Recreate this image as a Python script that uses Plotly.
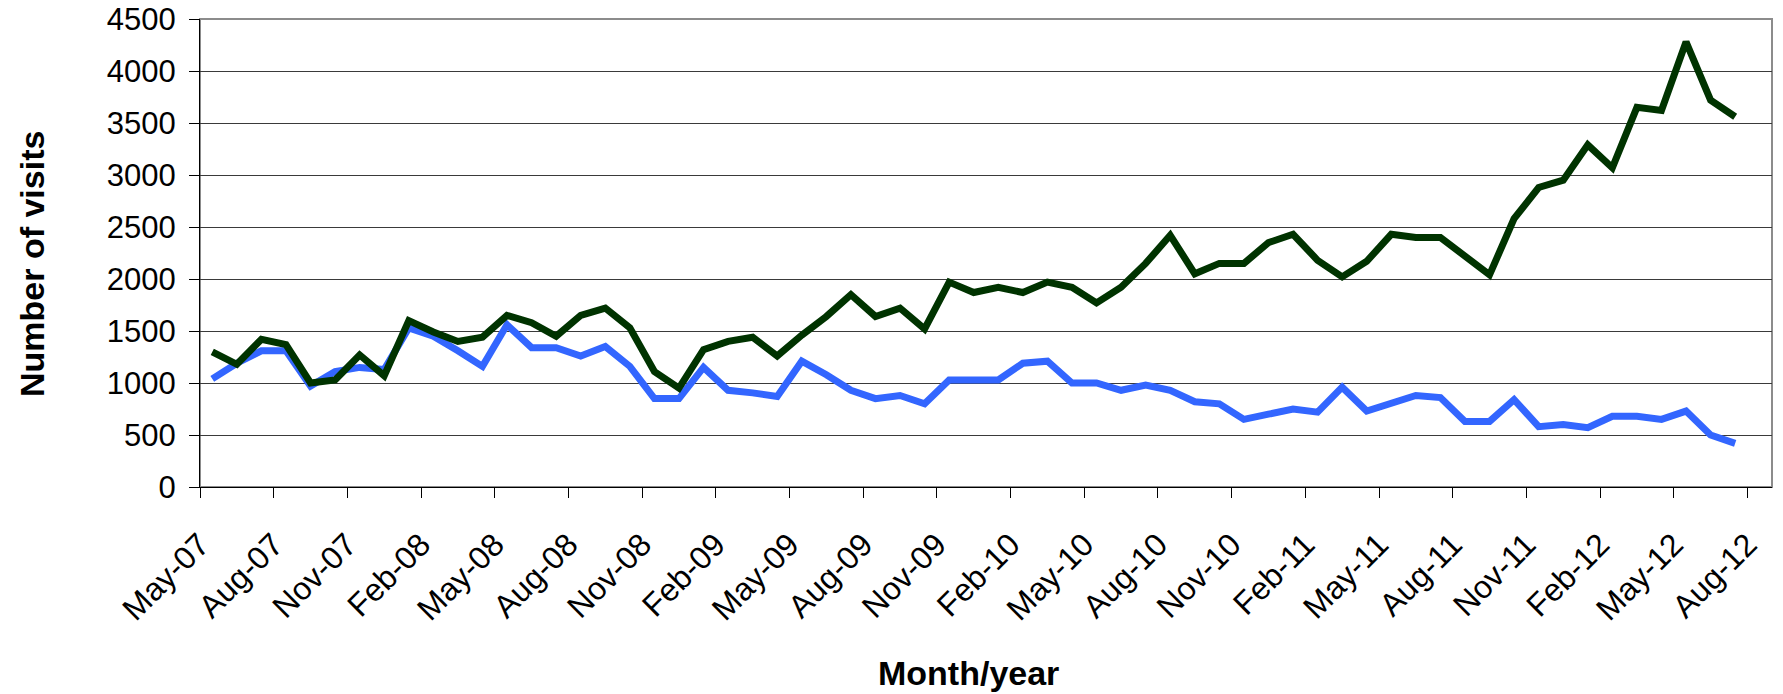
import plotly.graph_objects as go

# Monthly categories: May-07 .. Jul-12 (63 months with data); axis runs to Aug-12
month_labels = [
    "May-07", "Jun-07", "Jul-07", "Aug-07", "Sep-07", "Oct-07", "Nov-07", "Dec-07",
    "Jan-08", "Feb-08", "Mar-08", "Apr-08", "May-08", "Jun-08", "Jul-08", "Aug-08",
    "Sep-08", "Oct-08", "Nov-08", "Dec-08", "Jan-09", "Feb-09", "Mar-09", "Apr-09",
    "May-09", "Jun-09", "Jul-09", "Aug-09", "Sep-09", "Oct-09", "Nov-09", "Dec-09",
    "Jan-10", "Feb-10", "Mar-10", "Apr-10", "May-10", "Jun-10", "Jul-10", "Aug-10",
    "Sep-10", "Oct-10", "Nov-10", "Dec-10", "Jan-11", "Feb-11", "Mar-11", "Apr-11",
    "May-11", "Jun-11", "Jul-11", "Aug-11", "Sep-11", "Oct-11", "Nov-11", "Dec-11",
    "Jan-12", "Feb-12", "Mar-12", "Apr-12", "May-12", "Jun-12", "Jul-12", "Aug-12",
]

tick_labels = ["May-07", "Aug-07", "Nov-07", "Feb-08", "May-08", "Aug-08", "Nov-08",
               "Feb-09", "May-09", "Aug-09", "Nov-09", "Feb-10", "May-10", "Aug-10",
               "Nov-10", "Feb-11", "May-11", "Aug-11", "Nov-11", "Feb-12", "May-12",
               "Aug-12"]

visits_green = [
    1300, 1180, 1420, 1370, 1000, 1030, 1270, 1070, 1600, 1490, 1400, 1440,
    1650, 1580, 1450, 1650, 1720, 1530, 1110, 950, 1320, 1400, 1440, 1260,
    1460, 1640, 1850, 1640, 1720, 1520, 1970, 1870, 1920, 1870, 1970, 1920,
    1770, 1920, 2150, 2420, 2050, 2150, 2150, 2350, 2430, 2180, 2020, 2170,
    2430, 2400, 2400, 2220, 2040, 2580, 2880, 2950, 3290, 3070, 3650, 3620,
    4280, 3720, 3560,
]

visits_blue = [
    1040, 1190, 1310, 1310, 970, 1110, 1150, 1130, 1530, 1450, 1310, 1160,
    1560, 1340, 1340, 1260, 1350, 1160, 850, 850, 1150, 930, 905, 870,
    1210, 1080, 930, 850, 880, 800, 1030, 1030, 1030, 1190, 1210, 1000,
    1000, 930, 980, 930, 820, 800, 650, 700, 750, 720, 960, 730,
    810, 880, 860, 630, 630, 840, 580, 600, 570, 680, 680, 650,
    730, 500, 420,
]

n_slots = len(month_labels)
x_blue = [i + 0.5 for i in range(len(visits_blue))]
x_green = [i + 0.5 for i in range(len(visits_green))]
tick_pos = [month_labels.index(t) for t in tick_labels]

FONT = "Arial, 'Liberation Sans', sans-serif"

fig = go.Figure()
fig.add_trace(go.Scatter(
    x=x_blue, y=visits_blue, mode="lines",
    line=dict(color="#3366FF", width=7),
    customdata=month_labels[:len(visits_blue)],
    hovertemplate="%{customdata}: %{y}<extra></extra>",
))
fig.add_trace(go.Scatter(
    x=x_green, y=visits_green, mode="lines",
    line=dict(color="#003300", width=7),
    customdata=month_labels[:len(visits_green)],
    hovertemplate="%{customdata}: %{y}<extra></extra>",
))

fig.update_layout(
    width=1783, height=694,
    margin=dict(l=200, r=11, t=19, b=207),
    paper_bgcolor="white", plot_bgcolor="white",
    showlegend=False,
    font=dict(family=FONT, color="black"),
    xaxis=dict(
        range=[0, n_slots], tickmode="array", tickvals=tick_pos, ticktext=tick_labels,
        tickangle=-45, ticks="outside", ticklen=10, tickcolor="black", tickwidth=1,
        showgrid=False, showline=True, linecolor="black", linewidth=1,
        tickfont=dict(size=32, family=FONT), zeroline=False, automargin=False,
        ticklabelstandoff=15, ticklabeloverflow="allow",
    ),
    yaxis=dict(
        range=[0, 4500], dtick=500, tick0=0, ticks="outside", ticklen=10,
        tickcolor="black", showgrid=True, gridcolor="#3a3a3a", gridwidth=1,
        showline=True, linecolor="black", linewidth=1, zeroline=False,
        tickfont=dict(size=31, family=FONT), ticklabelstandoff=7, automargin=False,
        ticklabeloverflow="allow",
    ),
    shapes=[dict(type="rect", xref="paper", yref="paper", x0=0, x1=1, y0=0, y1=1,
                 line=dict(color="#8c8c8c", width=2), layer="below")],
    annotations=[
        dict(text="<b>Number of visits</b>", xref="paper", yref="paper",
             x=-0.107, y=0.476, xanchor="center", yanchor="middle", textangle=-90,
             showarrow=False, font=dict(size=34, family=FONT)),
        dict(text="<b>Month/year</b>", xref="paper", yref="paper",
             x=0.489, y=-0.397, xanchor="center", yanchor="middle",
             showarrow=False, font=dict(size=34, family=FONT)),
    ],
)

# remove the default 8px page margin so the figure fills the window exactly
fig.write_html("out.html", config={"displayModeBar": False},
               post_script="document.body.style.margin='0';")
